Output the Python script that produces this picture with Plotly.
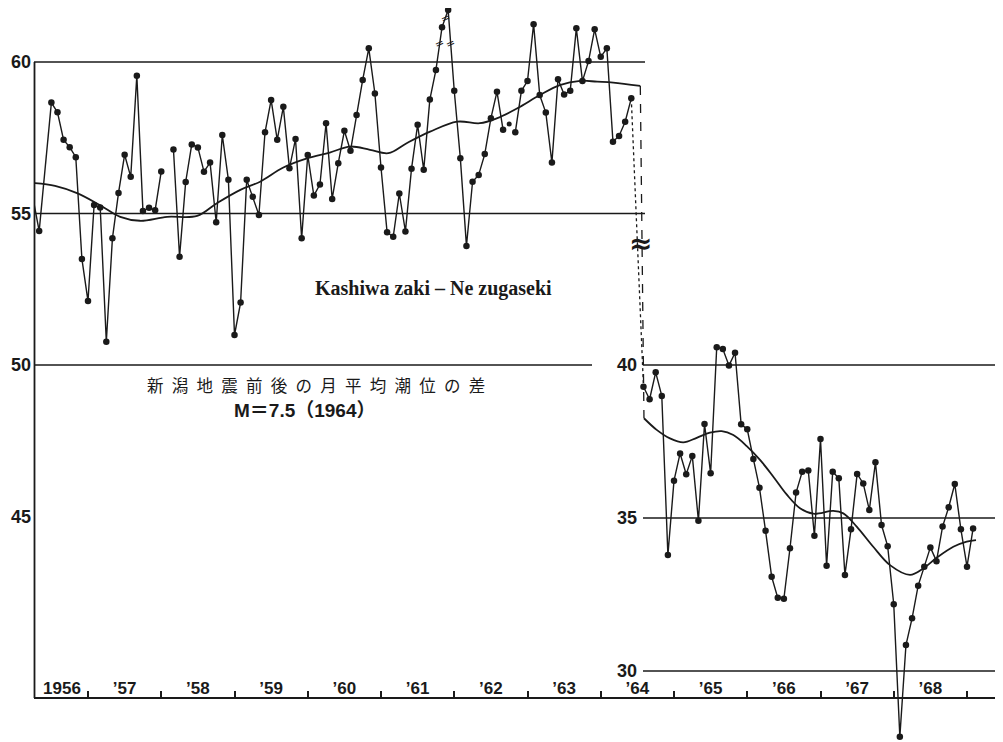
import plotly.graph_objects as go

# ---------------- data ----------------
left_start_year, left_start_month = 1956, 4
left_vals = [55.50, 54.42, None, 58.66, 58.34, 57.43, 57.19, 56.86, 53.50, 52.11,
             55.28, 55.20, 50.77, 54.18, 55.68, 56.94, 56.21, 59.55, 55.08, 55.19,
             55.11, 56.39, None, 57.11, 53.57, 56.04, 57.28, 57.18, 56.38, 56.68,
             54.71, 57.59, 56.11, 50.99, 52.06, 56.11, 55.55, 54.95, 57.68, 58.75,
             57.43, 58.52, 56.49, 57.46, 54.18, 56.93, 55.59, 55.96, 57.98, 55.48,
             56.66, 57.73, 57.07, 58.25, 59.41, 60.45, 58.96, 56.52, 54.38, 54.23,
             55.66, 54.41, 56.48, 57.93, 56.44, 58.76, 59.74, 61.15, 61.72, 59.05,
             56.82, 53.93, 56.05, 56.27, 56.96, 58.14, 59.02, 57.76, 57.95, 57.68,
             59.05, 59.37, 61.25, 58.91, 58.33, 56.68, 59.43, 58.93, 59.05, 61.11,
             59.37, 60.03, 61.08, 60.17, 60.45, 57.37, 57.56, 58.03, 58.80]
left_unconnected = [78]
left_bridges = [(1, 3)]

right_start_year, right_start_month = 1964, 8
right_vals = [39.29, 38.88, 39.76, 38.99, 33.79, 36.22, 37.11, 36.43, 37.03, 34.91,
              38.07, 36.46, 40.58, 40.52, 39.98, 40.40, 38.06, 37.90, 36.93, 35.99,
              34.58, 33.08, 32.39, 32.36, 34.01, 35.83, 36.51, 36.55, 34.42, 37.58,
              33.44, 36.51, 36.30, 33.14, 34.63, 36.44, 36.13, 35.26, 36.82, 34.77,
              34.08, 32.18, 27.85, 30.85, 31.72, 32.79, 33.41, 34.04, 33.59, 34.72,
              35.35, 36.11, 34.63, 33.41, 34.66]

left_smooth_x = [1956.276, 1956.55, 1956.85, 1957.16, 1957.44, 1957.71, 1958.08, 1958.49,
                 1958.76, 1959.08, 1959.35, 1959.66, 1959.99, 1960.30, 1960.58, 1960.85,
                 1961.10, 1961.35, 1961.67, 1962.04, 1962.35, 1962.58, 1962.86, 1963.17,
                 1963.44, 1963.72, 1963.95, 1964.17, 1964.54]
left_smooth_y = [56.00, 55.91, 55.67, 55.28, 54.89, 54.76, 54.89, 54.92,
                 55.34, 55.78, 56.05, 56.51, 56.82, 57.01, 57.21, 57.10,
                 56.99, 57.32, 57.70, 58.03, 57.98, 58.14, 58.47, 58.91,
                 59.24, 59.38, 59.35, 59.32, 59.21]

right_smooth_x = [1964.590, 1964.764, 1964.945, 1965.127, 1965.310, 1965.491, 1965.651,
                  1965.810, 1965.993, 1966.174, 1966.356, 1966.538, 1966.720, 1966.902,
                  1967.174, 1967.311, 1967.494, 1967.720, 1967.949, 1968.222, 1968.403,
                  1968.586, 1968.813, 1968.996, 1969.123]
right_smooth_y = [38.26, 37.88, 37.60, 37.47, 37.62, 37.79, 37.84,
                  37.71, 37.35, 36.90, 36.35, 35.77, 35.32, 35.14,
                  35.23, 35.15, 34.72, 34.06, 33.46, 33.14, 33.35,
                  33.70, 34.06, 34.23, 34.28]

year_labels = ["1956", "’57", "’58", "’59", "’60", "’61", "’62", "’63",
               "’64", "’65", "’66", "’67", "’68"]
year_bounds = list(range(1957, 1970))
left_y_ticks = [45, 50, 55, 60]
right_y_ticks = [30, 35, 40]

# ---------------- geometry helpers (layout only) ----------------
OFF = 8                      # page body margin
VW, VH = 1003, 742           # target window
FW, FH = VW - OFF, VH - OFF  # figure size


def px_year(p):
    return 1957 + (p - 88) / 73.25


def q_left(q):
    return 60 - (q - 62) / 30.3


def q_right(q):
    return 40 - (q - 365) / 30.6


XR = [px_year(34), px_year(VW)]
YL = [q_left(VH), q_left(OFF)]
YR = [q_right(VH), q_right(OFF)]


def r_to_l(v):
    return YL[0] + (v - YR[0]) * (YL[1] - YL[0]) / (YR[1] - YR[0])


def px(p):
    return (p - OFF) / FW


def py(q):
    return 1 - (q - OFF) / FH


def month_x(y0, m0, n):
    return [y0 + (m0 - 1) / 12 + i / 12 for i in range(n)]


lx = month_x(left_start_year, left_start_month, len(left_vals))
rx = month_x(right_start_year, right_start_month, len(right_vals))

INK = "#1a1a1a"
fig = go.Figure()

# left series line (gaps and unconnected points broken)
l_line = [None if i in left_unconnected else v for i, v in enumerate(left_vals)]
fig.add_trace(go.Scatter(x=lx, y=l_line, mode="lines", line=dict(color=INK, width=1.4),
                         connectgaps=False, hoverinfo="skip", showlegend=False))
for a, b in left_bridges:
    fig.add_trace(go.Scatter(x=[lx[a], lx[b]], y=[left_vals[a], left_vals[b]], mode="lines",
                             line=dict(color=INK, width=1.4), showlegend=False, hoverinfo="skip"))
mx = [x for i, (x, v) in enumerate(zip(lx, left_vals)) if v is not None and i not in left_unconnected]
my = [v for i, v in enumerate(left_vals) if v is not None and i not in left_unconnected]
fig.add_trace(go.Scatter(x=mx, y=my, mode="markers", marker=dict(color=INK, size=6.5),
                         cliponaxis=False, showlegend=False))
fig.add_trace(go.Scatter(x=[lx[i] for i in left_unconnected], y=[left_vals[i] for i in left_unconnected],
                         mode="markers", marker=dict(color=INK, size=5), showlegend=False))
fig.add_trace(go.Scatter(x=left_smooth_x, y=left_smooth_y, mode="lines",
                         line=dict(color=INK, width=1.8, shape="spline"), showlegend=False))

# right series
fig.add_trace(go.Scatter(x=rx, y=right_vals, mode="lines+markers", yaxis="y2",
                         line=dict(color=INK, width=1.4), marker=dict(color=INK, size=6.5),
                         cliponaxis=False, showlegend=False))
fig.add_trace(go.Scatter(x=right_smooth_x, y=right_smooth_y, mode="lines", yaxis="y2",
                         line=dict(color=INK, width=1.8, shape="spline"), showlegend=False))

# connectors across the break
fig.add_trace(go.Scatter(x=[lx[-1], rx[0]], y=[left_vals[-1], r_to_l(right_vals[0])], mode="lines",
                         line=dict(color=INK, width=1.3, dash="dot"), showlegend=False, hoverinfo="skip"))
fig.add_trace(go.Scatter(x=[left_smooth_x[-1], right_smooth_x[0]],
                         y=[left_smooth_y[-1], r_to_l(right_smooth_y[0])], mode="lines",
                         line=dict(color=INK, width=1.3, dash="dash"), showlegend=False, hoverinfo="skip"))

# shapes: reference lines and left axis line
shapes = []
for v in (60, 55):
    shapes.append(dict(type="line", xref="paper", yref="y", x0=px(34), x1=px(645), y0=v, y1=v,
                       line=dict(color=INK, width=1.3)))
shapes.append(dict(type="line", xref="paper", yref="y", x0=px(34), x1=px(592), y0=50, y1=50,
                   line=dict(color=INK, width=1.3)))
for v in right_y_ticks:
    shapes.append(dict(type="line", xref="paper", yref="y2", x0=px(643), x1=1, y0=v, y1=v,
                       line=dict(color=INK, width=1.3)))
shapes.append(dict(type="line", xref="paper", yref="paper", x0=px(34.5), x1=px(34.5),
                   y0=py(698), y1=py(62), line=dict(color=INK, width=1.8)))

# annotations
annots = [
    dict(text="Kashiwa zaki – Ne zugaseki", x=px(433), y=py(288), xref="paper", yref="paper",
         xanchor="center", yanchor="middle", showarrow=False,
         font=dict(family="Liberation Serif", size=20, color=INK, weight="bold")),
    dict(text="\u2002".join("新潟地震前後の月平均潮位の差"), x=px(316), y=py(385), xref="paper",
         yref="paper", xanchor="center", yanchor="middle", showarrow=False,
         font=dict(family="Noto Sans CJK JP", size=16.5, color=INK)),
    dict(text="M＝7.5（1964）", x=px(305), y=py(410), xref="paper", yref="paper",
         xanchor="center", yanchor="middle", showarrow=False,
         font=dict(family="Liberation Sans, Noto Sans CJK JP", size=19, color=INK, weight="bold")),
    dict(text="≈", x=px(640), y=py(244), xref="paper", yref="paper", xanchor="center",
         yanchor="middle", showarrow=False,
         font=dict(family="DejaVu Sans", size=28, color=INK, weight="bold")),
]
# break marks on the 1961 peak
for (a, b) in [(66, 67), (67, 68), (68, 69)]:
    if (a, b) == (67, 68):
        bx, by = (lx[a] + lx[b]) / 2, (left_vals[a] + left_vals[b]) / 2
    else:
        bx = lx[a] + (60.6 - left_vals[a]) / (left_vals[b] - left_vals[a]) / 12
        by = 60.6
    annots.append(dict(text="=", x=bx, y=by, xref="x", yref="y", showarrow=False, textangle=-25,
                       font=dict(family="DejaVu Sans", size=11, color=INK)))

tickfont = dict(family="Liberation Sans", size=18, color=INK, weight="bold")
label_pos = [px_year(62)] + [y + 0.5 for y in range(1957, 1969)]

fig.update_layout(
    width=FW, height=FH, margin=dict(l=0, r=0, t=0, b=0),
    paper_bgcolor="white", plot_bgcolor="white", showlegend=False,
    shapes=shapes, annotations=annots,
    xaxis=dict(domain=[px(34), 1], range=XR, anchor="free", position=py(698),
               showline=True, linecolor=INK, linewidth=1.8, showgrid=False, zeroline=False,
               tickmode="array", tickvals=label_pos, ticktext=year_labels, ticks="",
               ticklabelposition="inside", tickfont=dict(family="Liberation Sans", size=17,
                                                         color=INK, weight="bold"),
               minor=dict(tickmode="array", tickvals=year_bounds, ticks="inside", ticklen=6,
                          tickwidth=1.5, tickcolor=INK, showgrid=False)),
    yaxis=dict(domain=[0, 1], range=YL, tickmode="array", tickvals=left_y_ticks, ticks="",
               showgrid=False, zeroline=False, showline=False, tickfont=tickfont,
               ticklabelstandoff=2),
    yaxis2=dict(overlaying="y", range=YR, anchor="free", position=px(641), side="left",
                tickmode="array", tickvals=right_y_ticks, ticks="", showgrid=False,
                zeroline=False, showline=False, tickfont=tickfont, ticklabelstandoff=4),
)

fig.write_html("out.html")
